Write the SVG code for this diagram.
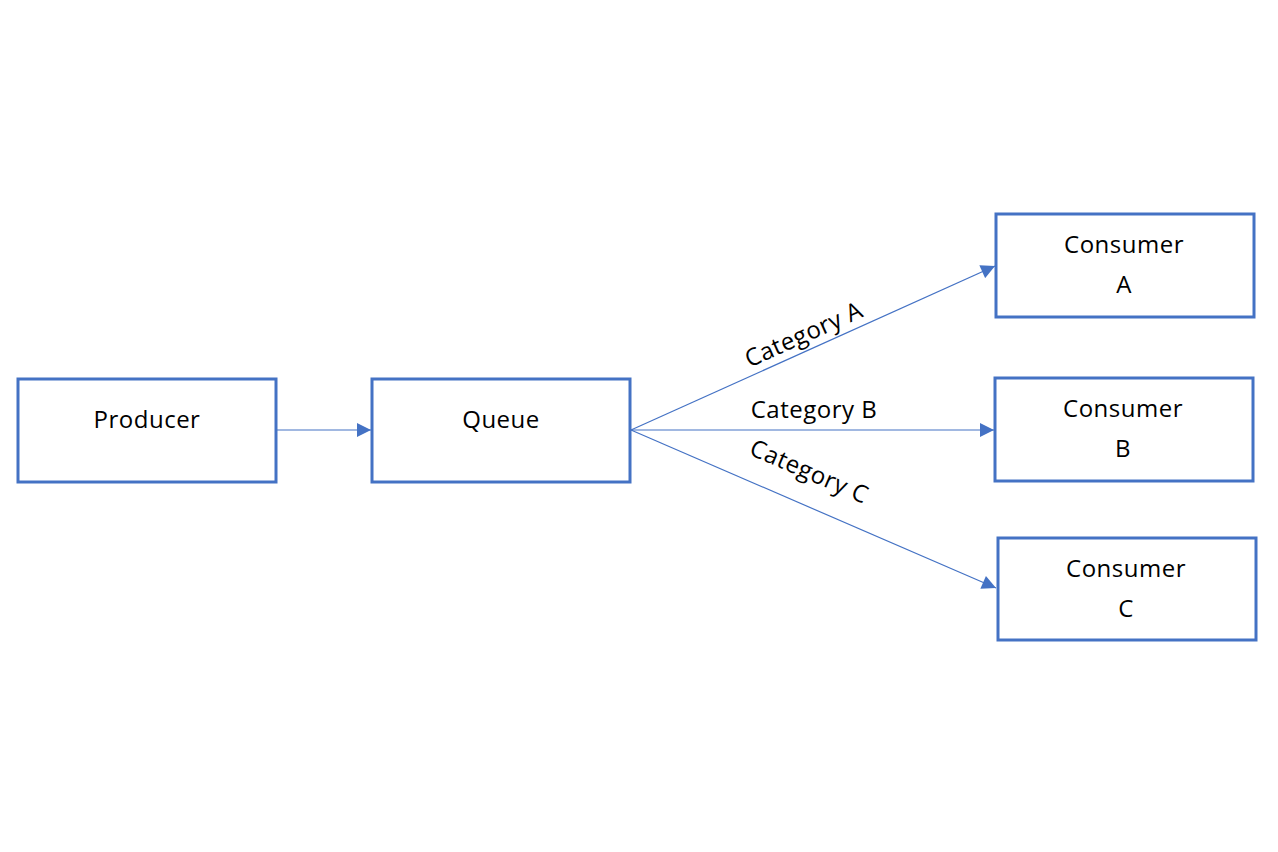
<svg xmlns="http://www.w3.org/2000/svg" width="1278" height="852" viewBox="0 0 1278 852">
<style>
.box{fill:#fff;stroke:#4472C4;stroke-width:3}
.t{font-family:"Open Sans","Liberation Sans",sans-serif;font-size:24px;letter-spacing:0.5px;fill:#000;text-anchor:middle}
.c{fill:none;stroke:#4472C4;stroke-width:1.2}
</style>
<defs>
<marker id="ah" viewBox="0 0 10 10" refX="10" refY="5" markerWidth="15" markerHeight="14" markerUnits="userSpaceOnUse" orient="auto">
<path d="M0,0 L10,5 L0,10 Z" fill="#4472C4"/>
</marker>
</defs>
<rect width="1278" height="852" fill="#fff"/>
<g id="producer"><rect class="box" x="18" y="379" width="258" height="103"/><text class="t" x="147" y="428">Producer</text></g>
<g id="queue"><rect class="box" x="372" y="379" width="258" height="103"/><text class="t" x="501" y="428">Queue</text></g>
<g id="consumerA"><rect class="box" x="996" y="214" width="258" height="103"/><text class="t" x="1124" y="253">Consumer</text><text class="t" x="1124" y="293">A</text></g>
<g id="consumerB"><rect class="box" x="995" y="378" width="258" height="103"/><text class="t" x="1123" y="417">Consumer</text><text class="t" x="1123" y="457">B</text></g>
<g id="consumerC"><rect class="box" x="998" y="538" width="258" height="102"/><text class="t" x="1126" y="577">Consumer</text><text class="t" x="1126" y="617">C</text></g>
<g id="connectors">
<line class="c" x1="277" y1="430" x2="371" y2="430" marker-end="url(#ah)"/>
<line class="c" x1="631" y1="430" x2="995" y2="266" marker-end="url(#ah)"/>
<line class="c" x1="631" y1="430" x2="994" y2="430" marker-end="url(#ah)"/>
<line class="c" x1="631" y1="430" x2="996" y2="588" marker-end="url(#ah)"/>
<text class="t" transform="translate(807,342) rotate(-24.2)">Category A</text>
<text class="t" x="814" y="418">Category B</text>
<text class="t" transform="translate(806,479) rotate(23.4)">Category C</text>
</g>
</svg>
